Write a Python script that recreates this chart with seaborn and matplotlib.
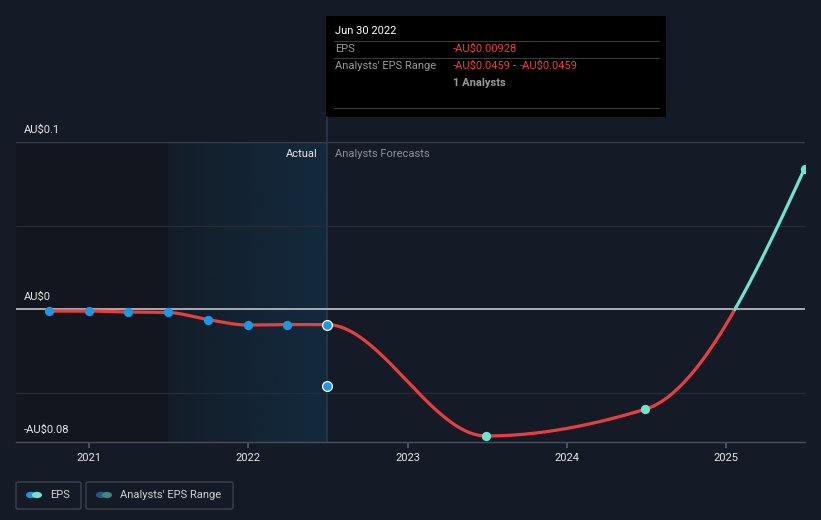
import numpy as np
import pandas as pd
import matplotlib
matplotlib.use("Agg")
import matplotlib.pyplot as plt
from matplotlib.patches import FancyBboxPatch, Rectangle, Circle
from matplotlib.lines import Line2D
from matplotlib.colors import LinearSegmentedColormap
import seaborn as sns

# ---- data ----
actual_x = [2020.746, 2020.999, 2021.244, 2021.493, 2021.745, 2021.999, 2022.244, 2022.493]
actual_eps = [-0.0012, -0.0012, -0.0018, -0.0020, -0.0063, -0.0096, -0.0093, -0.00928]
forecast_x = [2023.493, 2024.493, 2025.493]
forecast_eps = [-0.076, -0.060, 0.084]
range_x = [2022.493]
range_eps = [-0.0459]
year_ticks = [2021, 2022, 2023, 2024, 2025]
y_labels = ["AU\\$0.1", "AU\\$0", "-AU\\$0.08"]
y_label_px = [130, 297, 430]

W, H = 821, 520
BG = "#151b26"
RED = "#e5403f"
TEAL = "#6fe3cf"
BLUE = "#2394df"

sns.set_theme(style="dark")
plt.rcParams["font.family"] = ["Roboto", "DejaVu Sans"]

fig = plt.figure(figsize=(W / 100, H / 100), dpi=100, facecolor=BG)
x0, x1 = 16, 805
ytop, ybot = 142, 442
ax = fig.add_axes([x0 / W, (H - ybot) / H, (x1 - x0) / W, (ybot - ytop) / H])
ax.set_facecolor(BG)
xmin, xmax = 2020.5416, 2025.496
ymin, ymax = -0.0796, 0.1
split = actual_x[3]
now = actual_x[-1]

# background regions
ax.axvspan(xmin, split, color="#13161e", lw=0, zorder=0)
grad = np.linspace(0, 1, 256).reshape(1, -1)
cmap = LinearSegmentedColormap.from_list("g", ["#131d29", "#132a3d"])
ax.imshow(grad, extent=[split, now, ymin, ymax], aspect="auto", cmap=cmap,
          zorder=0.5, interpolation="bicubic")

# gridlines
for v, c in [(0.1, "#3a3f49"), (0.05, "#262c37"), (-0.05, "#262c37")]:
    ax.axhline(v, color=c, lw=1.0, zorder=1)
ax.axhline(0, color="#b5b7ba", lw=1.3, zorder=2)
ax.axvline(now, color="#24384e", lw=1.2, zorder=1)


# ---- smooth curve (monotone cubic through the data points) ----
def pchip(x, y, xs):
    x = np.asarray(x, float); y = np.asarray(y, float)
    h = np.diff(x); d = np.diff(y) / h
    n = len(x); m = np.zeros(n)
    for k in range(1, n - 1):
        if d[k - 1] * d[k] > 0:
            w1 = 2 * h[k] + h[k - 1]; w2 = h[k] + 2 * h[k - 1]
            m[k] = (w1 + w2) / (w1 / d[k - 1] + w2 / d[k])

    def endp(h0, h1, d0, d1):
        mm = ((2 * h0 + h1) * d0 - h0 * d1) / (h0 + h1)
        if np.sign(mm) != np.sign(d0):
            mm = 0.0
        elif np.sign(d0) != np.sign(d1) and abs(mm) > abs(3 * d0):
            mm = 3 * d0
        return mm
    m[0] = endp(h[0], h[1], d[0], d[1])
    m[-1] = endp(h[-1], h[-2], d[-1], d[-2])
    idx = np.clip(np.searchsorted(x, xs) - 1, 0, n - 2)
    t = (xs - x[idx]) / h[idx]
    h00 = 2 * t**3 - 3 * t**2 + 1; h10 = t**3 - 2 * t**2 + t
    h01 = -2 * t**3 + 3 * t**2; h11 = t**3 - t**2
    return h00 * y[idx] + h10 * h[idx] * m[idx] + h01 * y[idx + 1] + h11 * h[idx] * m[idx + 1]


all_x = actual_x + forecast_x
all_y = actual_eps + forecast_eps
xs = np.linspace(all_x[0], all_x[-1], 1500)
ys = pchip(all_x, all_y, xs)
neg = pd.DataFrame({"x": xs, "y": np.where(ys <= 0.0005, ys, np.nan)})
pos = pd.DataFrame({"x": xs, "y": np.where(ys >= -0.0005, ys, np.nan)})
sns.lineplot(data=neg, x="x", y="y", ax=ax, color=RED, lw=2.3, zorder=3,
             estimator=None, sort=False)
sns.lineplot(data=pos, x="x", y="y", ax=ax, color=TEAL, lw=2.3, zorder=3,
             estimator=None, sort=False)

# points
act = pd.DataFrame({"x": actual_x, "y": actual_eps})
sns.scatterplot(data=act.iloc[:-1], x="x", y="y", ax=ax, color=BLUE, s=45,
                linewidth=0, zorder=4)
last = pd.DataFrame({"x": actual_x[-1:] + range_x, "y": actual_eps[-1:] + range_eps})
sns.scatterplot(data=last, x="x", y="y", ax=ax, color=BLUE, s=50,
                edgecolor="white", linewidth=0.9, zorder=5)
fc = pd.DataFrame({"x": forecast_x, "y": forecast_eps})
sns.scatterplot(data=fc, x="x", y="y", ax=ax, color=TEAL, s=45, linewidth=0,
                zorder=4)

ax.set_xlim(xmin, xmax)
ax.set_ylim(ymin, ymax)
ax.set_xlabel(""); ax.set_ylabel("")
ax.set_yticks([])
ax.set_xticks(year_ticks)
ax.set_xticklabels([str(y) for y in year_ticks], color="#e6e6e6", fontsize=8)
ax.tick_params(axis="x", length=4, color="#555a63", pad=4, direction="out", bottom=True)
for s in ["top", "right", "left"]:
    ax.spines[s].set_visible(False)
ax.spines["bottom"].set_color("#4a4f58")
ax.spines["bottom"].set_linewidth(1.0)
ax.grid(False)


def fx(px):
    return px / W


def fy(py):
    return 1 - py / H


# y labels
for lab, py in zip(y_labels, y_label_px):
    fig.text(fx(24), fy(py), lab, color="#e6e6e6", fontsize=8, va="center", ha="left")

fig.text(fx(318), fy(154), "Actual", color="#e8e8e8", fontsize=8, ha="right", va="center")
fig.text(fx(335), fy(154), "Analysts Forecasts", color="#8b9099", fontsize=8, ha="left", va="center")

# tooltip
fig.add_artist(Line2D([fx(327), fx(327)], [fy(117), fy(142)], color="#24384e", lw=1.2))
fig.add_artist(Rectangle((fx(326), fy(117)), fx(666) - fx(326), fy(16) - fy(117),
                         facecolor="#000000", edgecolor="none"))
for yy in [41, 58, 108]:
    fig.add_artist(Line2D([fx(334), fx(659)], [fy(yy), fy(yy)], color="#3a3a3a", lw=0.8))
fig.text(fx(335), fy(31), "Jun 30 2022", color="white", fontsize=8, va="center")
fig.text(fx(335), fy(49), "EPS", color="#9a9a9a", fontsize=8, va="center")
fig.text(fx(453), fy(49), "-AU\\$0.00928", color="#e8413f", fontsize=8, va="center")
fig.text(fx(335), fy(66), "Analysts' EPS Range", color="#9a9a9a", fontsize=8, va="center")
fig.text(fx(453), fy(66), "-AU\\$0.0459", color="#e8413f", fontsize=8, va="center")
fig.text(fx(513), fy(66), "-", color="#9a9a9a", fontsize=8, va="center")
fig.text(fx(520), fy(66), "-AU\\$0.0459", color="#e8413f", fontsize=8, va="center")
fig.text(fx(453), fy(83), "1 Analysts", color="#9a9a9a", fontsize=8, va="center",
         fontweight="bold")

# legend
for (bx0, bx1) in [(16, 81), (86, 233)]:
    fig.add_artist(FancyBboxPatch((fx(bx0), fy(509)), fx(bx1) - fx(bx0), fy(482) - fy(509),
                                  boxstyle="round,pad=0,rounding_size=0.003",
                                  facecolor="none", edgecolor="#3c414b", lw=1.0))
r = 5 / W
for cx, col in [(31, BLUE), (37, TEAL), (101, "#1f5b8c"), (107, "#3e8880")]:
    fig.add_artist(Circle((fx(cx), fy(495)), r, transform=fig.transFigure,
                          facecolor=col, edgecolor="none"))
fig.text(fx(50), fy(495), "EPS", color="#d0d0d0", fontsize=8, va="center")
fig.text(fx(120), fy(495), "Analysts' EPS Range", color="#d0d0d0", fontsize=8, va="center")

fig.savefig("out.png", dpi=100, facecolor=BG)
